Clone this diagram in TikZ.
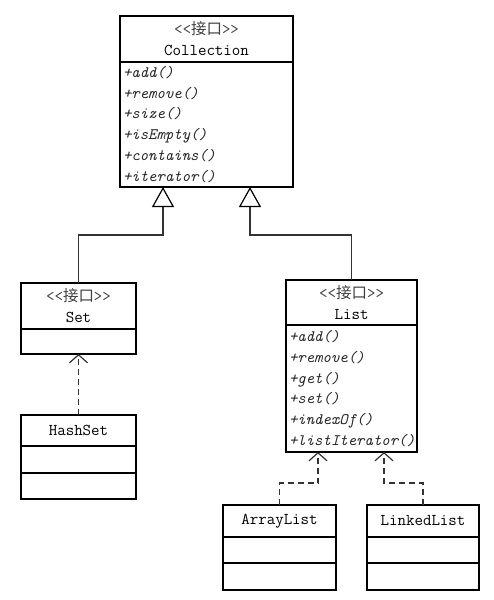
\documentclass[tikz,border=0pt]{standalone}
\usepackage{fontspec}
\newfontfamily\cjk{Noto Sans CJK SC}
\usetikzlibrary{positioning,arrows.meta}
\newcommand{\stereo}{{\color{black!75}<<{\cjk\fontsize{15.5}{21}\selectfont 接口}>>}}
\tikzset{
  box/.style={draw, line width=1.5pt, outer sep=0pt, inner sep=0pt},
  head/.style 2 args={box, text width=#1, inner xsep=3pt, minimum height=#2, align=center,
    font=\fontsize{16.5}{21}\selectfont\ttfamily},
  ops/.style 2 args={box, text width=#1, inner xsep=3pt, minimum height=#2, align=left,
    text=black!85, font=\fontsize{16}{20.8}\selectfont\ttfamily\itshape},
  inherit/.style={draw=black!80, line width=1.2pt, -{Triangle[open, length=20pt, width=22pt, color=black]}},
  realize/.style={draw=black!80, line width=1.2pt, dash pattern=on 6pt off 4pt, -{Straight Barb[length=8pt, width=18pt]}}
}

\begin{document}
\begin{tikzpicture}[x=1pt, y=-1pt]
    \useasboundingbox (0,0) rectangle (493,600);

    % interface Collection
    \node[head={167pt}{46pt}] (coll-head) at (206.5,39) {\stereo\\Collection};
    \node[ops={167pt}{125pt}, below=0pt of coll-head] (coll-ops)
      {+add()\\+remove()\\+size()\\+isEmpty()\\+contains()\\+iterator()};

    % interface Set and HashSet
    \node[head={109pt}{46pt}] (set-head) at (78.5,306) {\stereo\\Set};
    \node[ops={109pt}{25pt}, below=0pt of set-head] (set-attr) {};
    \node[head={109pt}{31pt}] (hash-head) at (78.5,430.5) {HashSet};
    \node[ops={109pt}{27pt}, below=0pt of hash-head] (hash-attr) {};
    \node[ops={109pt}{26pt}, below=0pt of hash-attr] (hash-ops) {};

    % interface List and its classes
    \node[head={125pt}{45pt}] (list-head) at (351.5,302.5) {\stereo\\List};
    \node[ops={125pt}{127pt}, below=0pt of list-head] (list-ops)
      {+add()\\+remove()\\+get()\\+set()\\+indexOf()\\+listIterator()};
    \node[head={107pt}{32pt}] (arr-head) at (279.5,521) {ArrayList};
    \node[ops={107pt}{26pt}, below=0pt of arr-head] (arr-attr) {};
    \node[ops={107pt}{27pt}, below=0pt of arr-attr] (arr-ops) {};
    \node[head={106pt}{32pt}] (lnk-head) at (423,521) {LinkedList};
    \node[ops={106pt}{26pt}, below=0pt of lnk-head] (lnk-attr) {};
    \node[ops={106pt}{27pt}, below=0pt of lnk-attr] (lnk-ops) {};

    % connectors
    \coordinate (j-set) at (163,235);
    \coordinate (j-list) at (250,235);
    \coordinate (j-arr) at (318,483);
    \coordinate (j-lnk) at (384,483);
    \draw[inherit] (set-head.north) |- (j-set) -- (j-set |- coll-ops.south);
    \draw[inherit] (list-head.north) |- (j-list) -- (j-list |- coll-ops.south);
    \draw[realize] (hash-head.north) -- (set-attr.south);
    \draw[realize] (arr-head.north) |- (j-arr) -- (j-arr |- list-ops.south);
    \draw[realize] (lnk-head.north) |- (j-lnk) -- (j-lnk |- list-ops.south);
\end{tikzpicture}
\end{document}
